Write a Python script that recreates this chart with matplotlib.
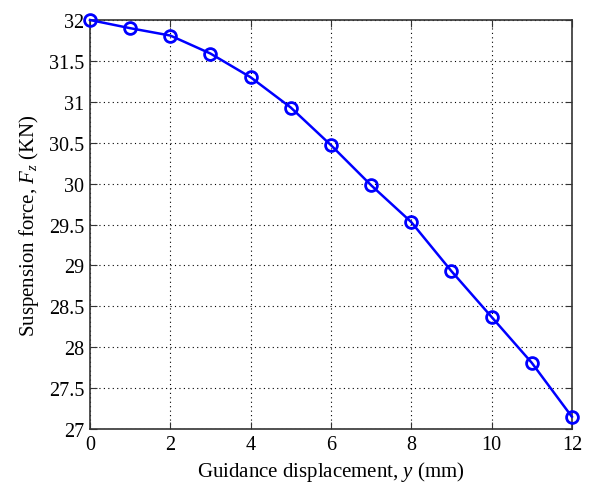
import matplotlib

matplotlib.use("Agg")
import matplotlib.pyplot as plt

plt.rcParams["font.family"] = ["Liberation Serif", "DejaVu Serif"]
plt.rcParams["mathtext.fontset"] = "custom"
plt.rcParams["mathtext.rm"] = "Liberation Serif"
plt.rcParams["mathtext.it"] = "Liberation Serif:italic"

displacement = [0, 1, 2, 3, 4, 5, 6, 7, 8, 9, 10, 11, 12]
force = [32.0, 31.9, 31.81, 31.59, 31.30, 30.93, 30.47, 29.98, 29.53,
         28.93, 28.37, 27.81, 27.15]
x_ticks = [0, 2, 4, 6, 8, 10, 12]
y_ticks = [27, 27.5, 28, 28.5, 29, 29.5, 30, 30.5, 31, 31.5, 32]

fig = plt.figure(figsize=(5.92, 4.85), dpi=100)
ax = fig.add_axes([0.152, 0.1134, 0.814, 0.8433])

ax.plot(displacement, force, color="#0000ff", linewidth=1.8, marker="o",
        markersize=8.5, markerfacecolor="none", markeredgewidth=2.0,
        markeredgecolor="#0000ff", clip_on=False, zorder=3)

ax.set_xlim(0, 12)
ax.set_ylim(27, 32)
ax.set_xticks(x_ticks)
ax.set_yticks(y_ticks)
ax.set_xticklabels([str(v) for v in x_ticks])
ax.set_yticklabels([f"{v:g}" for v in y_ticks])
ax.grid(True, linestyle=(0, (1, 3)), color="black", linewidth=0.8)
ax.tick_params(direction="in", length=5, labelsize=14.5, top=True, right=True,
               pad=4, color="#333333")
for s in ax.spines.values():
    s.set_linewidth(1.2)
    s.set_color("#333333")

ax.set_xlabel("Guidance displacement, $y$ (mm)", fontsize=15, labelpad=4)
ax.set_ylabel("Suspension force, $F_z$ (KN)", fontsize=15, labelpad=6)

fig.savefig("out.png", dpi=100)
